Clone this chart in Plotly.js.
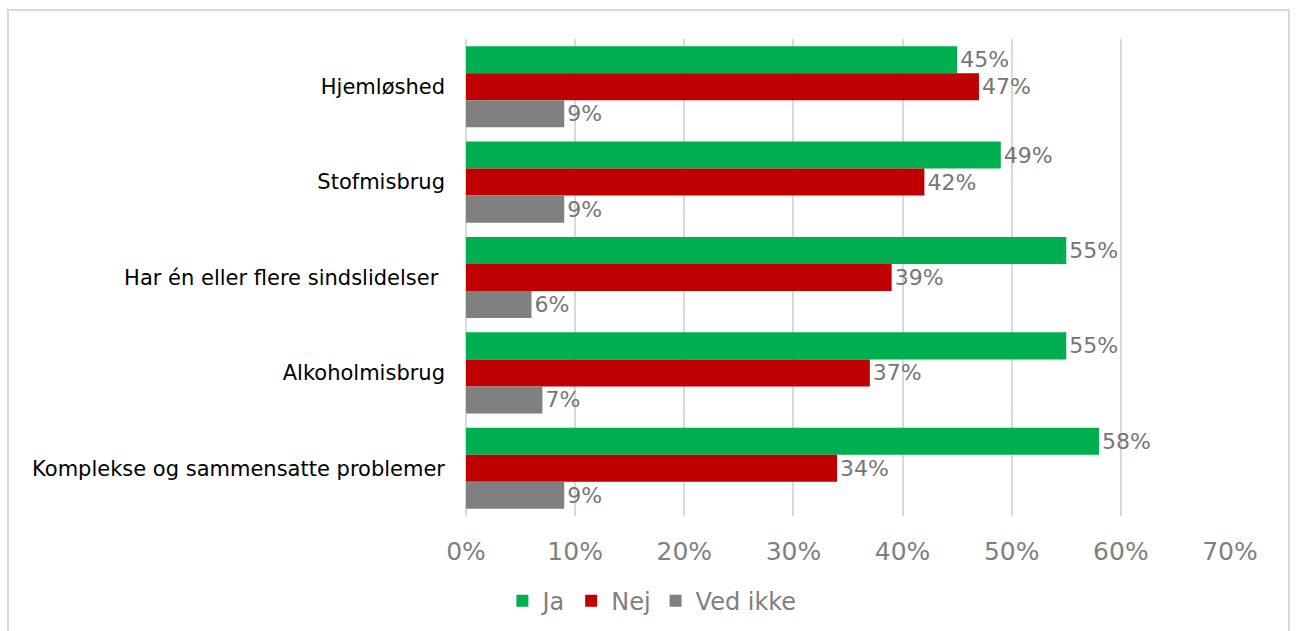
<!DOCTYPE html>
<html>
<head>
<meta charset="utf-8">
<script src="https://cdn.plot.ly/plotly-3.0.1.min.js"></script>
<style>
  html, body { margin: 0; padding: 0; background: #ffffff; }
  #wrap { position: relative; width: 1296px; height: 631px; overflow: hidden; }
  #chart { position: absolute; left: 0; top: 0; width: 1296px; height: 631px; }
  #frame { position: absolute; left: 7px; top: 9px; width: 1283px; height: 640px;
           border: 2px solid #d9d9d9; pointer-events: none; box-sizing: border-box; }
</style>
</head>
<body>
<div id="wrap">
  <div id="chart"></div>
  <div id="frame"></div>
</div>
<script>
const categories = [
  "Hjemløshed",
  "Stofmisbrug",
  "Har én eller flere sindslidelser\u00a0",
  "Alkoholmisbrug",
  "Komplekse og sammensatte problemer"
];
const seriesNames = ["Ja", "Nej", "Ved ikke"];
const jaValues = [45, 49, 55, 55, 58];
const nejValues = [47, 42, 39, 37, 34];
const vedIkkeValues = [9, 9, 6, 7, 9];
const tickValues = [0, 10, 20, 30, 40, 50, 60, 70];
const tickLabels = ["0%", "10%", "20%", "30%", "40%", "50%", "60%", "70%"];

const colors = ["#00B050", "#C00000", "#808080"];
const allValues = [jaValues, nejValues, vedIkkeValues];

const traces = allValues.map((vals, i) => ({
  type: "bar",
  orientation: "h",
  name: seriesNames[i],
  x: vals,
  y: categories,
  marker: { color: colors[i] },
  text: vals.map(v => v + "%"),
  textposition: "outside",
  textfont: { family: "DejaVu Sans, Verdana, sans-serif", size: 22, color: "#767676" },
  constraintext: "none",
  cliponaxis: false,
  hoverinfo: "x+name"
}));

const layout = {
  width: 1296,
  height: 631,
  margin: { l: 466, r: 66, t: 39, b: 115, autoexpand: false },
  paper_bgcolor: "#ffffff",
  plot_bgcolor: "#ffffff",
  barmode: "group",
  bargap: 0.15,
  bargroupgap: 0,
  font: { family: "DejaVu Sans, Verdana, sans-serif", color: "#000000" },
  xaxis: {
    range: [0, 70],
    tickvals: tickValues,
    ticktext: tickLabels,
    showgrid: true,
    gridcolor: "#d9d9d9",
    gridwidth: 2,
    zeroline: true,
    zerolinecolor: "#d9d9d9",
    zerolinewidth: 2,
    showline: false,
    ticks: "",
    ticklabelstandoff: 18,
    tickfont: { size: 25, color: "#7f7f7f" },
    fixedrange: true
  },
  yaxis: {
    autorange: "reversed",
    type: "category",
    showgrid: false,
    zeroline: false,
    showline: false,
    ticks: "",
    ticklabelstandoff: 20,
    tickfont: { size: 21, color: "#000000" },
    fixedrange: true
  },
  legend: {
    orientation: "h",
    x: 0.503,
    xref: "container",
    xanchor: "center",
    y: 0.0475,
    yref: "container",
    yanchor: "middle",
    font: { size: 24, color: "#7f7f7f" },
    itemwidth: 30,
    tracegroupgap: 0
  },
  showlegend: true
};

Plotly.newPlot("chart", traces, layout, { displayModeBar: false, staticPlot: true });
</script>
</body>
</html>
